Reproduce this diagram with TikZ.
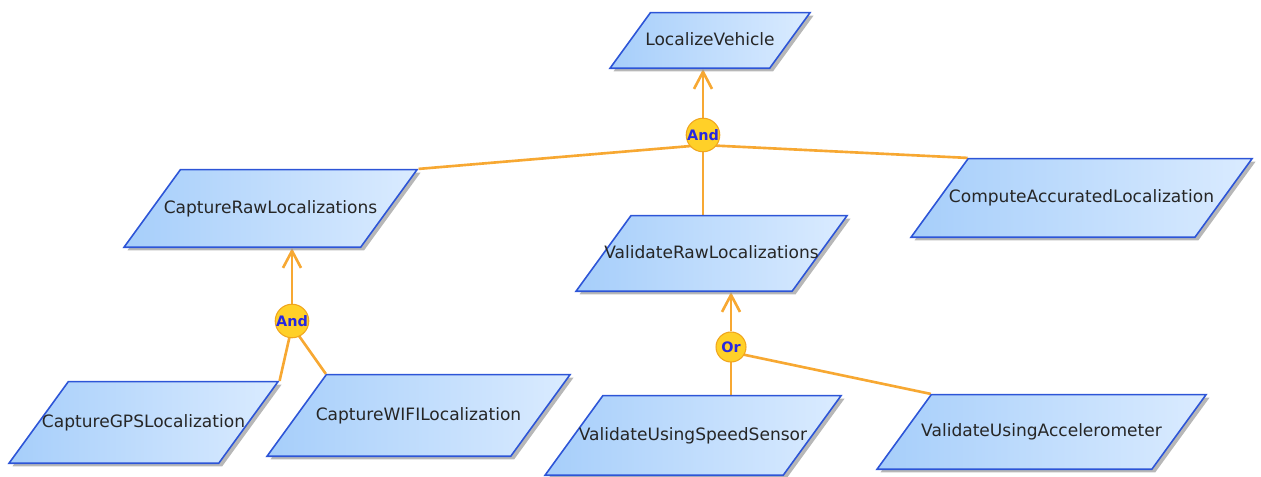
\documentclass[tikz,border=0pt]{standalone}
\usepackage{fontspec}
\setmainfont{DejaVu Sans}
\usepackage{xcolor}
\usepackage{tikz}
\usetikzlibrary{shapes.geometric, arrows.meta, shadows, backgrounds}
\definecolor{goalblue}{RGB}{45,85,215}
\definecolor{goalleft}{RGB}{166,206,250}
\definecolor{goalright}{RGB}{218,235,255}
\definecolor{linkorange}{RGB}{247,168,50}
\definecolor{gategold}{RGB}{255,208,40}
\definecolor{gateedge}{RGB}{240,165,30}
\definecolor{gatetext}{RGB}{40,40,225}
\tikzstyle{goal} = [trapezium, trapezium left angle=54, trapezium right angle=126, trapezium stretches body=true, inner xsep=-1cm, text height=0.76em, text depth=0.24em, draw=goalblue, line width=0.9pt, left color=goalleft, right color=goalright, text=black!85, font=\fontsize{9.7}{11}\selectfont, drop shadow={shadow xshift=0.07cm, shadow yshift=-0.06cm, fill=black!40, opacity=0.7}]
\tikzstyle{gate} = [circle, minimum size=0.6cm, inner sep=0pt, draw=gateedge, line width=0.6pt, fill=gategold, text=gatetext, font=\fontsize{8.2}{9}\selectfont\bfseries]
\tikzstyle{link} = [draw=linkorange, line width=1.5pt]
\tikzstyle{refine} = [link, -{Straight Barb[length=0.34cm, width=0.36cm]}]

\begin{document}
\begin{tikzpicture}
\useasboundingbox (0,0) rectangle (25.22,-9.54);
\node [goal, minimum width=4cm, inner ysep=0.38cm] (localize) at (14.2,-0.81) {LocalizeVehicle};
\node [goal, minimum width=5.86cm, inner ysep=0.6cm] (captureraw) at (5.41,-4.17) {CaptureRawLocalizations};
\node [goal, minimum width=5.42cm, inner ysep=0.58cm] (validateraw) at (14.23,-5.07) {ValidateRawLocalizations};
\node [goal, minimum width=6.82cm, inner ysep=0.61cm] (computeacc) at (21.63,-3.96) {ComputeAccuratedLocalization};
\node [goal, minimum width=5.38cm, inner ysep=0.64cm] (capturegps) at (2.87,-8.45) {CaptureGPSLocalization};
\node [goal, minimum width=6.06cm, inner ysep=0.64cm] (capturewifi) at (8.37,-8.31) {CaptureWIFILocalization};
\node [goal, minimum width=5.92cm, inner ysep=0.62cm] (validatespeed) at (13.86,-8.71) {ValidateUsingSpeedSensor};
\node [goal, minimum width=6.58cm, inner ysep=0.57cm] (validateaccel) at (20.83,-8.64) {ValidateUsingAccelerometer};

\node [gate] (andtop) at (14.06,-2.7) {And};
\node [gate] (andcap) at (5.84,-6.42) {And};
\node [gate] (orval) at (14.62,-6.94) {Or};

\begin{scope}[on background layer]
\coordinate (andtopjoin) at ([yshift=-2mm]andtop.center);
\draw [refine] (andtop.north) -- (andtop.north |- localize.south);
\draw [link] (andtopjoin) -- (captureraw.top right corner);
\draw [link] (andtopjoin) -- (computeacc.top left corner);
\draw [link] (andtopjoin) -- (andtopjoin |- validateraw.north);

\coordinate (andcapjoin) at ([yshift=-1mm]andcap.center);
\draw [refine] (andcap.north) -- (andcap.north |- captureraw.south);
\draw [link] (andcapjoin) -- (capturegps.top right corner);
\draw [link] (andcapjoin) -- (capturewifi.top left corner);

\coordinate (orvaljoin) at ([yshift=-1mm]orval.center);
\draw [refine] (orval.north) -- (orval.north |- validateraw.south);
\draw [link] (orvaljoin) -- (orvaljoin |- validatespeed.north);
\draw [link] (orvaljoin) -- (validateaccel.top left corner);
\end{scope}
\end{tikzpicture}
\end{document}
